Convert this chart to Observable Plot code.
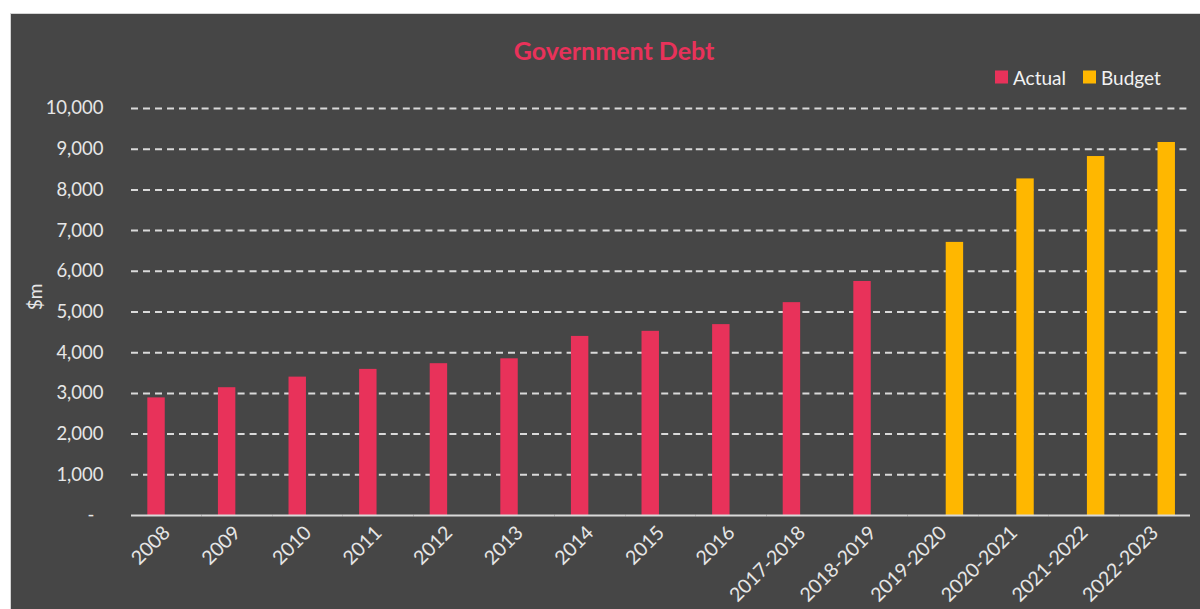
<!DOCTYPE html>
<html>
<head>
<meta charset="utf-8">
<script src="https://cdn.jsdelivr.net/npm/d3@7"></script>
<script src="https://cdn.jsdelivr.net/npm/@observablehq/plot@0.6"></script>
<style>
  html, body { margin: 0; padding: 0; background: #ffffff; }
  body { width: 1200px; height: 609px; overflow: hidden; position: relative; font-family: Lato, "Open Sans", sans-serif; }
  #panel { position: absolute; left: 10px; top: 13px; width: 1189px; height: 595px; background: #464646;
           border-top: 1px solid #d4d4d4; border-left: 1px solid #d4d4d4; overflow: hidden; }
  #header { position: relative; height: 84px; }
  #title { position: absolute; left: 603px; top: 36px; transform: translate(-50%, -50%); white-space: nowrap;
           font-family: Lato, sans-serif; font-weight: 700; font-size: 25px; color: #e8325a; }
  #legend { position: absolute; left: 984px; top: 63px; transform: translateY(-50%); display: flex; align-items: center;
            font-family: Lato, sans-serif; font-size: 19px; color: #f2f2f2; white-space: nowrap; }
  .sw { width: 13px; height: 13px; display: inline-block; margin-right: 5px; }
  .item { display: flex; align-items: center; margin-right: 17px; }
  #ylabel { position: absolute; left: 23px; top: 283px; transform: translate(-50%, -50%) rotate(-90deg);
            font-family: Lato, sans-serif; font-size: 19px; color: #e6e6e6; white-space: nowrap; }
  #chart svg { display: block; }
</style>
</head>
<body>
<div id="panel">
  <div id="header">
    <div id="title">Government Debt</div>
    <div id="legend"></div>
  </div>
  <div id="ylabel">$m</div>
  <div id="chart"></div>
</div>
<script>
const categories = ["2008","2009","2010","2011","2012","2013","2014","2015","2016","2017-2018","2018-2019","2019-2020","2020-2021","2021-2022","2022-2023"];
const actual = [2890, 3140, 3400, 3590, 3730, 3850, 4400, 4525, 4690, 5230, 5750, null, null, null, null];
const budget = [null, null, null, null, null, null, null, null, null, null, null, 6710, 8270, 8820, 9165];
const seriesNames = ["Actual", "Budget"];
const seriesColors = ["#e8325a", "#ffb700"];
const yTicks = [0, 1000, 2000, 3000, 4000, 5000, 6000, 7000, 8000, 9000, 10000];

const table = [];
categories.forEach((c, i) => {
  if (actual[i] != null) table.push({cat: c, series: "Actual", value: actual[i]});
  if (budget[i] != null) table.push({cat: c, series: "Budget", value: budget[i]});
});

const legend = document.getElementById("legend");
seriesNames.forEach((s, i) => {
  const it = document.createElement("div");
  it.className = "item";
  const sw = document.createElement("span");
  sw.className = "sw";
  sw.style.background = seriesColors[i];
  it.appendChild(sw);
  it.appendChild(document.createTextNode(s));
  legend.appendChild(it);
});

const fmt = d3.format(",");
const chart = Plot.plot({
  width: 1189,
  height: 511,
  marginTop: 10,
  marginBottom: 94,
  marginLeft: 120,
  marginRight: 10,
  style: { background: "transparent", color: "#e6e6e6", fontFamily: "Lato, sans-serif", fontSize: "18.5px", overflow: "visible" },
  fx: { domain: categories, padding: 0, round: false, axis: null },
  x: { domain: seriesNames, paddingInner: 0.2, paddingOuter: 0.72, align: 0.52, round: false, axis: null },
  y: { domain: [0, 10000], axis: null },
  color: { domain: seriesNames, range: seriesColors },
  marks: [
    Plot.gridY({ ticks: yTicks.filter(d => d > 0), stroke: "#d9d9d9", strokeOpacity: 1, strokeWidth: 2, strokeDasharray: "7,5" }),
    Plot.barY(table, { fx: "cat", x: "series", y: "value", fill: "series" }),
    Plot.ruleY([0], { stroke: "#d9d9d9", strokeWidth: 2 }),
    Plot.axisY({ ticks: yTicks, tickSize: 0, tickPadding: 28, tickFormat: d => d === 0 ? "-\u2002" : fmt(d),
                 label: null, fill: "#e6e6e6" }),
    Plot.axisFx({ anchor: "bottom", tickRotate: -45, tickSize: 0, tickPadding: 14, label: null, fill: "#e6e6e6", fontSize: 19.5 })
  ]
});
document.getElementById("chart").appendChild(chart);
</script>
</body>
</html>
